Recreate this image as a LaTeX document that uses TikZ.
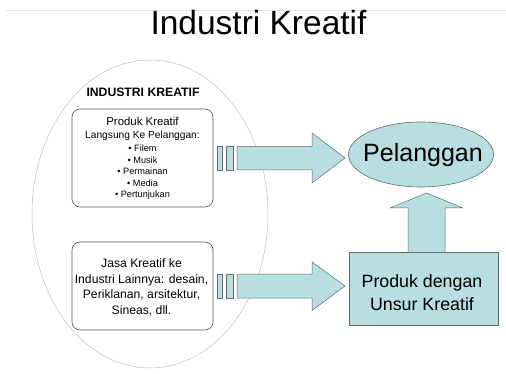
\documentclass[tikz,border=0pt]{standalone}
\usepackage{fontspec}
\setmainfont{Liberation Sans}
\usetikzlibrary{shapes.geometric}
\definecolor{aqua}{HTML}{B8DEE1}
\definecolor{edge}{HTML}{5F6B6D}
\definecolor{ring}{HTML}{BDBDBD}
\tikzset{
  txt/.style={anchor=base, inner sep=0pt, text=black},
  card/.style={draw=edge!80!black, line width=0.6pt, rounded corners=8pt, fill=white},
  blockarrow/.style={draw=edge, line width=0.5pt, fill=aqua, line join=miter},
}
\begin{document}
\begin{tikzpicture}[x=1pt,y=-1pt]
\useasboundingbox (0,0) rectangle (506,374);

% header rule and title
\draw[gray!20, line width=0.6pt] (6,10) -- (506,10);
\node[txt, font=\fontsize{33.5}{36}\selectfont] (title) at (258.5,35) {Industri Kreatif};

% enclosing sector ellipse
\node[ellipse, draw=ring, line width=0.5pt, minimum width=236pt, minimum height=308pt, inner sep=0pt] (sector) at (150,214) {};
\node[txt, font=\fontsize{12.2}{13}\selectfont\bfseries] (sectorlabel) at (143,97) {INDUSTRI KREATIF};

% product card
\node[card, minimum width=141pt, minimum height=98pt, inner sep=0pt] (prod) at (142.5,158) {};
\node[txt, font=\fontsize{11.4}{13}\selectfont] (p1) at (142.5,126) {Produk Kreatif};
\node[txt, font=\fontsize{10.2}{13}\selectfont] (p2) at (142.5,139) {Langsung Ke Pelanggan:};
\node[txt, font=\fontsize{9.2}{11}\selectfont] (b1) at (142.5,152) {• Filem};
\node[txt, font=\fontsize{9.2}{11}\selectfont] (b2) at (142.5,163.5) {• Musik};
\node[txt, font=\fontsize{9.2}{11}\selectfont] (b3) at (142.5,175) {• Permainan};
\node[txt, font=\fontsize{9.2}{11}\selectfont] (b4) at (142.5,186.5) {• Media};
\node[txt, font=\fontsize{9.2}{11}\selectfont] (b5) at (142.5,198) {• Pertunjukan};

% service card
\node[card, minimum width=141pt, minimum height=88pt, inner sep=0pt] (serv) at (142.5,286) {};
\node[txt, font=\fontsize{12.2}{15}\selectfont] (s1) at (141.5,267) {Jasa Kreatif ke};
\node[txt, font=\fontsize{12.2}{15}\selectfont] (s2) at (141.5,283) {Industri Lainnya: desain,};
\node[txt, font=\fontsize{12.2}{15}\selectfont] (s3) at (141.5,298.5) {Periklanan, arsitektur,};
\node[txt, font=\fontsize{12.2}{15}\selectfont] (s4) at (141.5,314) {Sineas, dll.};

% customer ellipse
\node[ellipse, draw=edge, line width=0.6pt, fill=aqua, minimum width=145pt, minimum height=65pt, inner sep=0pt] (cust) at (421,154.5) {};
\node[txt, font=\fontsize{25}{28}\selectfont] (custlabel) at (423,161.5) {Pelanggan};

% creative-content product box
\node[draw=edge, line width=0.6pt, fill=aqua, minimum width=149pt, minimum height=73pt, inner sep=0pt] (goods) at (423.5,288.5) {};
\node[txt, font=\fontsize{17.8}{20}\selectfont] (g1) at (422,287.5) {Produk dengan};
\node[txt, font=\fontsize{17.8}{20}\selectfont] (g2) at (422,310.5) {Unsur Kreatif};

% striped block arrow: product card -> customer
\draw[blockarrow] (217,146.5) rectangle (222,170);
\draw[blockarrow] (226,146.5) rectangle (233,170);
\draw[blockarrow] (237,146.5) -- (312,146.5) -- (312,133) -- (345,158) -- (312,183)
  -- (312,170) -- (237,170) -- cycle;

% striped block arrow: service card -> product box
\draw[blockarrow] (217,274) rectangle (222,298);
\draw[blockarrow] (226,274) rectangle (233,298);
\draw[blockarrow] (237,274) -- (312,274) -- (312,262) -- (345,286) -- (312,310.5)
  -- (312,298) -- (237,298) -- cycle;

% upward block arrow: product box -> customer
\draw[blockarrow] (408,252) -- (408,208) -- (390,208) -- (426.5,193) -- (463,208)
  -- (445,208) -- (445,252);
\end{tikzpicture}
\end{document}
